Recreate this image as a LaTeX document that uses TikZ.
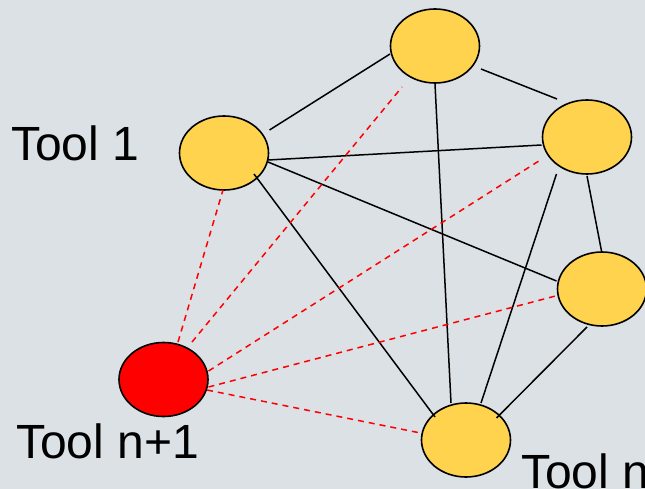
\documentclass[tikz,border=0pt]{standalone}
\usepackage{fontspec}
\setmainfont{Liberation Sans}
\usetikzlibrary{shapes.geometric}
\definecolor{bgcol}{HTML}{DCE1E5}
\definecolor{toolyel}{HTML}{FFD34E}
\definecolor{toolred}{HTML}{FF0000}
\tikzset{
  tool/.style={ellipse, draw=black, line width=1.6pt, fill=toolyel, minimum width=89pt, minimum height=74pt, inner sep=0pt},
  newtool/.style={tool, fill=toolred},
  link/.style={draw=black, line width=1.5pt},
  newlink/.style={draw=toolred, line width=1.5pt, dash pattern=on 6pt off 5pt},
  lbl/.style={anchor=base west, inner sep=0pt, font=\fontsize{48pt}{48pt}\selectfont}
}
\begin{document}
\begin{tikzpicture}[x=1pt,y=-1pt]
\path[fill=bgcol] (0,0) rectangle (645,489);
\useasboundingbox (0,0) rectangle (645,489);

\node[tool] (top) at (435,46) {};
\node[tool] (t1) at (224,153) {};
\node[tool] (ru) at (587,137) {};
\node[tool] (rl) at (602,289) {};
\node[tool] (bot) at (466,440) {};
\node[newtool] (red) at (163.5,379.5) {};

\draw[link] ([shift={(45.5,-23)}]t1.center) -- ([shift={(-45,8)}]top.center);
\draw[link] ([shift={(46,23)}]top.center) -- ([shift={(-30,-38)}]ru.center);
\draw[link] ([shift={(0,38)}]top.center) -- ([shift={(-15,-37)}]bot.center);
\draw[link] ([shift={(44,7)}]t1.center) -- ([shift={(-45.5,8)}]ru.center);
\draw[link] ([shift={(44,9)}]t1.center) -- ([shift={(-45.5,-8)}]rl.center);
\draw[link] ([shift={(30,21)}]t1.center) -- ([shift={(-31,-23)}]bot.center);
\draw[link] ([shift={(0,39)}]ru.center) -- ([shift={(-0.5,-38)}]rl.center);
\draw[link] ([shift={(-30.5,37)}]ru.center) -- ([shift={(15,-37)}]bot.center);
\draw[link] ([shift={(-15,38)}]rl.center) -- ([shift={(30.5,-22)}]bot.center);

\draw[newlink] ([shift={(14.5,-37.5)}]red.center) -- ([shift={(-1,37)}]t1.center);
\draw[newlink] ([shift={(28.5,-37.5)}]red.center) -- ([shift={(-33,41)}]top.center);
\draw[newlink] ([shift={(45,-8.5)}]red.center) -- ([shift={(-45,22)}]ru.center);
\draw[newlink] ([shift={(45,7.5)}]red.center) -- ([shift={(-46.5,7)}]rl.center);
\draw[newlink] ([shift={(43.5,10.5)}]red.center) -- ([shift={(-45.5,-7)}]bot.center);

\node[lbl] (l1) at (11,161) {Tool 1};
\node[lbl] (lnp) at (16,458) {Tool n+1};
\node[lbl] (ln) at (521,488) {Tool n};
\end{tikzpicture}
\end{document}
